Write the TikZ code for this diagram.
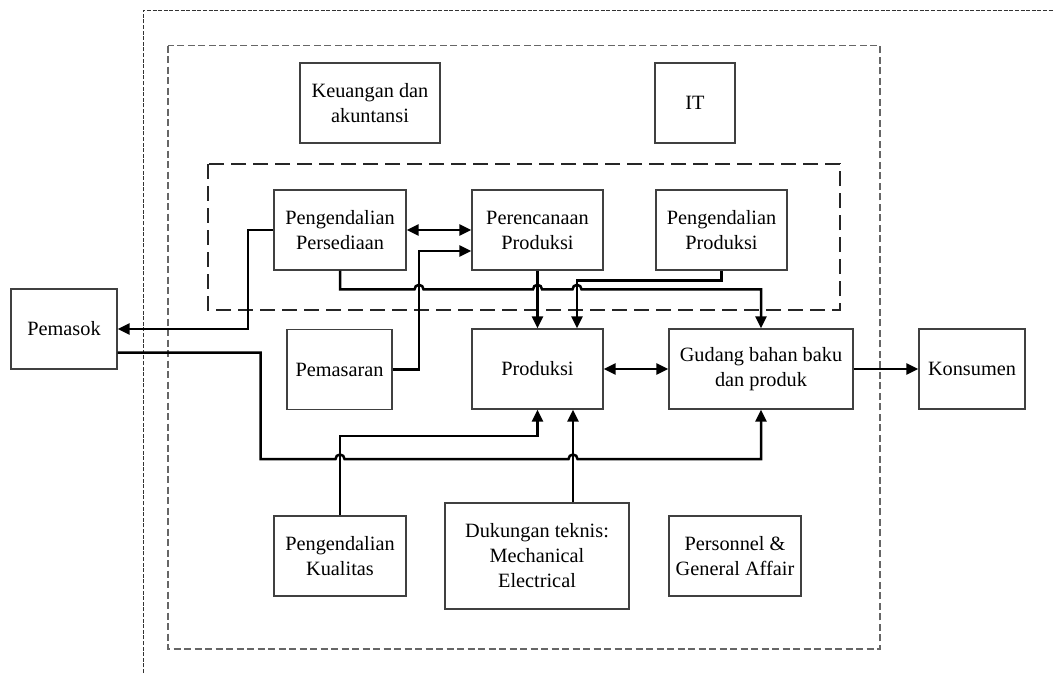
\documentclass[tikz,border=0pt]{standalone}
\usepackage{fontspec}
\setmainfont{Liberation Serif}
\usetikzlibrary{arrows.meta,calc}
\begin{document}
\begin{tikzpicture}[x=1pt,y=-1pt,
  box/.style={draw=black!75, line width=1.2pt, fill=white, align=center,
    inner sep=0pt, minimum height=80pt, font=\fontsize{20.3}{25}\selectfont},
  conn/.style={line width=2.5pt, -{Triangle[length=12pt,width=11pt]}},
  biconn/.style={line width=2.5pt, {Triangle[length=12pt,width=11pt]}-{Triangle[length=12pt,width=11pt]}},
  boundary/.style={draw=black!80, line width=1pt, dash pattern=on 4pt off 1.6pt},
  company/.style={draw=black!60, line width=1.3pt, dash pattern=on 7pt off 3.5pt},
  prodgroup/.style={draw=black!85, line width=1.2pt, dash pattern=on 15pt off 7pt},
]
\useasboundingbox (0,0) rectangle (1053,673);

% organisation frames
\draw[boundary] (143,673) -- (143,10.5) -- (1053,10.5);
\draw[company] (168,45.7) rectangle (880,649);
\draw[prodgroup] (208,164) rectangle (840,310);

% departments
\node[box, minimum width=140pt] (keu) at (370,103) {Keuangan dan\\akuntansi};
\node[box, minimum width=80pt] (it) at (695,103) {IT};
\node[box, minimum width=132pt] (pers) at (340,230) {Pengendalian\\Persediaan};
\node[box, minimum width=131pt] (renc) at (537.5,230) {Perencanaan\\Produksi};
\node[box, minimum width=131pt] (pprod) at (721.5,230) {Pengendalian\\Produksi};
\node[box, minimum width=106pt] (pemasok) at (64,329) {Pemasok};
\node[box, minimum width=105pt] (pemasaran) at (339.5,369.5) {Pemasaran};
\node[box, minimum width=131pt] (prod) at (537.5,369) {Produksi};
\node[box, minimum width=184pt] (gudang) at (761,369) {Gudang bahan baku\\dan produk};
\node[box, minimum width=106pt] (konsumen) at (972,369) {Konsumen};
\node[box, minimum width=132pt] (kual) at (340,556) {Pengendalian\\Kualitas};
\node[box, minimum width=184pt, minimum height=106pt] (duk) at (537,556) {Dukungan teknis:\\Mechanical\\Electrical};
\node[box, minimum width=132pt] (pga) at (735,556) {Personnel \&\\General Affair};

% routing points
\coordinate (psx) at (248,0);
\coordinate (pmx) at (419,0);
\coordinate (ppx) at (577,0);
\coordinate (dukx) at (573,0);
\coordinate (py) at (0,280.7);
\coordinate (pbus) at (0,289.3);
\coordinate (kq) at (0,436);
\coordinate (busL) at (260.7,459);
\coordinate (rin) at ($(renc.west)+(0,21)$);

% flows
\draw[biconn] (pers.east) -- (renc.west);
\draw[conn] (pemasaran.east) -| (pmx |- rin) -- (rin);
\draw[conn] (pers.west) -| (psx |- pemasok.east) -- (pemasok.east);
\draw[conn] (pers.south) -- (pers.south |- pbus)
  -- ($(pmx |- pbus)+(-4.5,0)$) arc[start angle=180,end angle=0,radius=4.5pt]
  -- ($(renc.south |- pbus)+(-4.5,0)$) arc[start angle=180,end angle=0,radius=4.5pt]
  -- ($(ppx |- pbus)+(-4.5,0)$) arc[start angle=180,end angle=0,radius=4.5pt]
  -| (gudang.north);
\draw[conn] (renc.south) -- (prod.north);
\draw[conn] (pprod.south) |- (ppx |- py) -- (ppx |- prod.north);
\draw[biconn] (prod.east) -- (gudang.west);
\draw[conn] (gudang.east) -- (konsumen.west);
\draw[conn] ([yshift=-23.7pt]pemasok.east) -| (busL)
  -- ($(kual.north |- busL)+(-4.5,0)$) arc[start angle=180,end angle=0,radius=4.5pt]
  -- ($(dukx |- busL)+(-4.5,0)$) arc[start angle=180,end angle=0,radius=4.5pt]
  -| (gudang.south);
\draw[conn] (kual.north) |- (prod.south |- kq) -- (prod.south);
\draw[conn] (dukx |- duk.north) -- (dukx |- prod.south);
\end{tikzpicture}
\end{document}
